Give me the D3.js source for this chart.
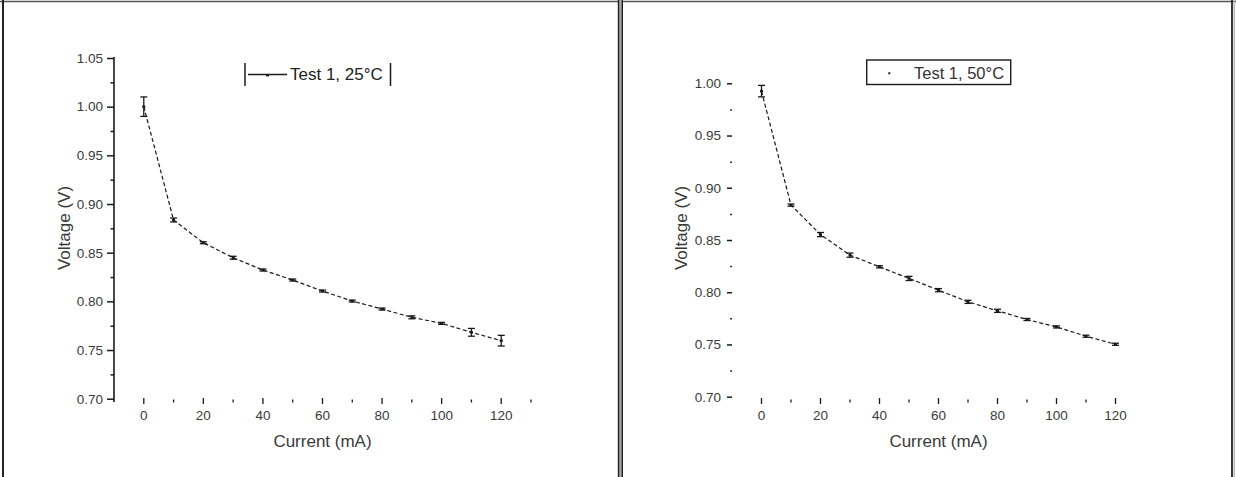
<!DOCTYPE html>
<html><head><meta charset="utf-8">
<script src="https://cdn.jsdelivr.net/npm/d3@7"></script>
<style>
html,body{margin:0;padding:0;background:#fff;}
svg{display:block;font-family:"Liberation Sans",Arial,sans-serif;}
</style></head>
<body>
<svg id="chart" width="1236" height="477"></svg>
<script>
// ---- data ----
const current = [0, 10, 20, 30, 40, 50, 60, 70, 80, 90, 100, 110, 120];
const voltage25 = [1.000, 0.8836, 0.8602, 0.8448, 0.8322, 0.8219, 0.8106, 0.8003, 0.7921, 0.7836, 0.7774, 0.7682, 0.7596];
const error25   = [0.010, 0.002, 0.001, 0.0015, 0.001, 0.001, 0.001, 0.001, 0.001, 0.0015, 0.001, 0.004, 0.0055];
const voltage50 = [0.9925, 0.8834, 0.8552, 0.8355, 0.8243, 0.8132, 0.8020, 0.7908, 0.7822, 0.7739, 0.7668, 0.7579, 0.7502];
const error50   = [0.0055, 0.001, 0.002, 0.002, 0.001, 0.002, 0.0015, 0.0015, 0.0015, 0.001, 0.001, 0.001, 0.001];
const xTickLabels = [0, 20, 40, 60, 80, 100, 120];
const yTicksLeft = [0.70, 0.75, 0.80, 0.85, 0.90, 0.95, 1.00, 1.05];
const yTicksRight = [0.70, 0.75, 0.80, 0.85, 0.90, 0.95, 1.00];
const legendLeft = "Test 1, 25°C";
const legendRight = "Test 1, 50°C";
const xTitle = "Current (mA)";
const yTitle = "Voltage (V)";

const svg = d3.select("#chart");
const ink = "#1a1a1a", textCol = "#3a3a3a";

// panel frames
svg.append("line").attr("x1",0).attr("x2",1236).attr("y1",1.5).attr("y2",1.5).attr("stroke","#555").attr("stroke-width",1.6);
svg.append("line").attr("x1",3).attr("x2",3).attr("y1",0).attr("y2",477).attr("stroke","#222").attr("stroke-width",2);
svg.append("rect").attr("x",618).attr("y",0).attr("width",5).attr("height",477).attr("fill","#a8a8a8");
svg.append("line").attr("x1",618.5).attr("x2",618.5).attr("y1",0).attr("y2",477).attr("stroke","#222").attr("stroke-width",1.4);
svg.append("line").attr("x1",622.3).attr("x2",622.3).attr("y1",0).attr("y2",477).attr("stroke","#222").attr("stroke-width",1.4);
svg.append("line").attr("x1",1232).attr("x2",1232).attr("y1",0).attr("y2",477).attr("stroke","#222").attr("stroke-width",1.8);
svg.append("line").attr("x1",1234.3).attr("x2",1234.3).attr("y1",0).attr("y2",477).attr("stroke","#bbb").attr("stroke-width",1.5);

function panel(cfg) {
  const g = svg.append("g");
  const x = d3.scaleLinear().domain([-10, 130]).range(cfg.xr);
  const y = d3.scaleLinear().domain(cfg.yd).range(cfg.yr);
  const data = current.map((c, i) => ({c, v: cfg.v[i], e: cfg.e[i]}));

  // y axis
  if (cfg.yLine) {
    g.append("line").attr("x1", cfg.xr[0]).attr("x2", cfg.xr[0])
      .attr("y1", cfg.yLineExt[0]).attr("y2", cfg.yLineExt[1])
      .attr("stroke", ink).attr("stroke-width", 1.6);
  }
  const yMinor = d3.range(cfg.yTicks.length - 1).map(i => (cfg.yTicks[i] + cfg.yTicks[i+1]) / 2);
  const ya = g.append("g").attr("transform", `translate(${cfg.xr[0]},0)`)
    .call(d3.axisLeft(y).tickValues(cfg.yTicks).tickSize(cfg.majorY).tickPadding(cfg.yPad).tickFormat(d3.format(".2f")).tickSizeOuter(0));
  ya.select(".domain").remove();
  ya.selectAll("line").attr("stroke", ink).attr("stroke-width", 1.5);
  ya.selectAll("text").attr("fill", textCol).style("font-size", "13.5px").style("font-family", "Liberation Sans, Arial, sans-serif");
  const ym = g.append("g").attr("transform", `translate(${cfg.xr[0]},0)`)
    .call(d3.axisLeft(y).tickValues(yMinor).tickSize(cfg.minorY).tickFormat(""));
  ym.select(".domain").remove();
  ym.selectAll("line").attr("stroke", ink).attr("stroke-width", 1.5);

  // x ticks (floating, no axis line)
  const xt = d3.range(0, cfg.xMaxTick + 1, 10);
  g.selectAll(".xt").data(xt).join("line")
    .attr("x1", d => x(d)).attr("x2", d => x(d))
    .attr("y1", d => xTickLabels.includes(d) ? cfg.xTickY - 3 : cfg.xTickY - 1.5)
    .attr("y2", d => xTickLabels.includes(d) ? cfg.xTickY + 3 : cfg.xTickY + 1.5)
    .attr("stroke", ink).attr("stroke-width", 1.3);
  g.selectAll(".xl").data(xTickLabels).join("text")
    .attr("x", d => x(d)).attr("y", 420).attr("text-anchor", "middle")
    .attr("fill", textCol).style("font-size", "13.5px").text(d => d);

  // titles
  g.append("text").attr("x", x(60)).attr("y", 447).attr("text-anchor", "middle")
    .attr("fill", textCol).style("font-size", "17px").text(xTitle);
  g.append("text").attr("transform", `translate(${cfg.yTitleX},228) rotate(-90)`)
    .attr("text-anchor", "middle").attr("dominant-baseline", "central")
    .attr("fill", textCol).style("font-size", "17px").text(yTitle);

  // line
  g.append("path").datum(data)
    .attr("d", d3.line().x(d => x(d.c)).y(d => y(d.v)))
    .attr("fill", "none").attr("stroke", ink).attr("stroke-width", 1.2)
    .attr("stroke-dasharray", "4,2.5");

  // error bars
  const eb = g.selectAll(".eb").data(data).join("g");
  eb.append("line").attr("x1", d => x(d.c)).attr("x2", d => x(d.c))
    .attr("y1", d => y(d.v - d.e)).attr("y2", d => y(d.v + d.e))
    .attr("stroke", ink).attr("stroke-width", 1.3);
  eb.append("line").attr("x1", d => x(d.c) - 3.5).attr("x2", d => x(d.c) + 3.5)
    .attr("y1", d => y(d.v - d.e)).attr("y2", d => y(d.v - d.e))
    .attr("stroke", ink).attr("stroke-width", 1.3);
  eb.append("line").attr("x1", d => x(d.c) - 3.5).attr("x2", d => x(d.c) + 3.5)
    .attr("y1", d => y(d.v + d.e)).attr("y2", d => y(d.v + d.e))
    .attr("stroke", ink).attr("stroke-width", 1.3);
  // markers
  g.selectAll(".pt").data(data).join("rect")
    .attr("x", d => x(d.c) - 1.5).attr("y", d => y(d.v) - 1.2)
    .attr("width", 3).attr("height", 2.4).attr("fill", ink);

  return g;
}

panel({
  xr: [114, 531], yd: [0.70, 1.05], yr: [398.7, 58],
  v: voltage25, e: error25, yTicks: yTicksLeft,
  yLine: true, yLineExt: [57, 402], majorY: 7, minorY: 3.5, yPad: 4,
  xMaxTick: 130, xTickY: 401, yTitleX: 64
});
panel({
  xr: [732, 1145], yd: [0.70, 1.00], yr: [396.7, 83.3],
  v: voltage50, e: error50, yTicks: yTicksRight,
  yLine: false, majorY: 5, minorY: 1.8, yPad: 6,
  xMaxTick: 120, xTickY: 401, yTitleX: 681
});

// legends
const lg1 = svg.append("g");
lg1.append("line").attr("x1", 245).attr("x2", 245).attr("y1", 63).attr("y2", 86).attr("stroke", ink).attr("stroke-width", 1.5);
lg1.append("line").attr("x1", 390.5).attr("x2", 390.5).attr("y1", 63).attr("y2", 86).attr("stroke", ink).attr("stroke-width", 1.5);
lg1.append("line").attr("x1", 248).attr("x2", 287).attr("y1", 74.5).attr("y2", 74.5).attr("stroke", ink).attr("stroke-width", 1.3);
lg1.append("rect").attr("x", 266).attr("y", 74).attr("width", 3).attr("height", 2.4).attr("fill", ink);
lg1.append("text").attr("x", 290).attr("y", 80).attr("fill", "#222").style("font-size", "17px").text(legendLeft);

const lg2 = svg.append("g");
lg2.append("rect").attr("x", 866.7).attr("y", 60).attr("width", 144).attr("height", 24.5)
  .attr("fill", "none").attr("stroke", ink).attr("stroke-width", 1.4);
lg2.append("rect").attr("x", 888.3).attr("y", 72.3).attr("width", 2).attr("height", 2).attr("fill", ink);
lg2.append("text").attr("x", 914).attr("y", 78.5).attr("fill", "#333").style("font-size", "16.5px").text(legendRight);
</script>
</body></html>
